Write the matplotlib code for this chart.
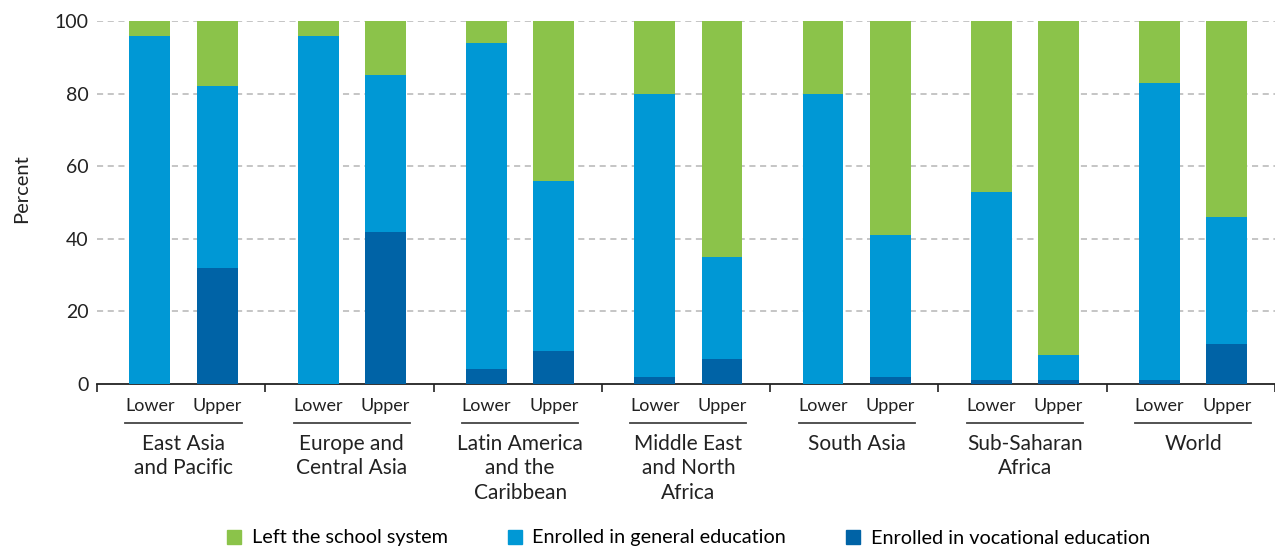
import matplotlib
matplotlib.use("Agg")
import matplotlib.pyplot as plt
import matplotlib.transforms as mtransforms
from matplotlib.patches import Patch
import numpy as np

regions = ["East Asia\nand Pacific", "Europe and\nCentral Asia", "Latin America\nand the\nCaribbean",
           "Middle East\nand North\nAfrica", "South Asia", "Sub-Saharan\nAfrica", "World"]
levels = ["Lower", "Upper"]
# values per region: [Lower, Upper]
vocational = [[0, 32], [0, 42], [4, 9], [2, 7], [0, 2], [1, 1], [1, 11]]
general = [[96, 50], [96, 43], [90, 47], [78, 28], [80, 39], [52, 7], [82, 35]]
left = [[4, 18], [4, 15], [6, 44], [20, 65], [20, 59], [47, 92], [17, 54]]
series_names = ["Left the school system", "Enrolled in general education", "Enrolled in vocational education"]
colors = {"left": "#8BC34A", "general": "#0098D5", "vocational": "#0063A6"}
yticks = [0, 20, 40, 60, 80, 100]

plt.rcParams['font.family'] = ['Lato', 'DejaVu Sans']

fig = plt.figure(figsize=(12.75, 5.46), dpi=100)
W, H = 1275, 546
ax = fig.add_axes([97 / W, 162 / H, (1275 - 97) / W, (384 - 21) / H])

n = len(regions)
off = 0.2
shift = 0.014
bw = 0.243
voc = np.array(vocational, dtype=float)
gen = np.array(general, dtype=float)
lft = np.array(left, dtype=float)
centers = np.arange(n)
for j, sign in enumerate([-1, 1]):
    xs = centers + sign * off + shift
    ax.bar(xs, voc[:, j], width=bw, color=colors["vocational"], zorder=3, linewidth=0)
    ax.bar(xs, gen[:, j], width=bw, bottom=voc[:, j], color=colors["general"], zorder=3, linewidth=0)
    ax.bar(xs, lft[:, j], width=bw, bottom=voc[:, j] + gen[:, j], color=colors["left"], zorder=3, linewidth=0)

ax.set_ylim(0, 100)
ax.set_xlim(-0.5, n - 0.5 - 5 / 169)
ax.set_yticks(yticks)
ax.set_yticklabels([str(v) for v in yticks], fontsize=14, color="#222222")
ax.tick_params(axis='y', length=0, pad=6)
for v in yticks[1:]:
    ax.axhline(v, color="#b5b5b5", linestyle=(0, (4, 3)), linewidth=1.1, zorder=1)

for s in ["top", "right", "left"]:
    ax.spines[s].set_visible(False)
ax.spines["bottom"].set_color("#222222")
ax.spines["bottom"].set_linewidth(1.3)
ax.set_xticks(np.arange(n + 1) - 0.5)
ax.set_xticklabels([])
ax.tick_params(axis='x', length=6, width=1.2, color="#222222", direction='out')

fig.text(22 / W, (546 - 189) / H, "Percent", rotation=90, ha='center', va='center',
         fontsize=14.5, color="#222222")

trans = mtransforms.blended_transform_factory(ax.transData, fig.transFigure)
for i, name in enumerate(regions):
    for j, sign in enumerate([-1, 1]):
        ax.text(i + sign * off + shift, (546 - 406) / H, levels[j], transform=trans, ha='center', va='center',
                fontsize=13, color="#222222", clip_on=False)
    ax.plot([i + shift - 0.345, i + shift + 0.345], [(546 - 423) / H] * 2, transform=trans, color="#444444",
            linewidth=1.3, clip_on=False)
    ax.text(i + shift, (546 - 434) / H, name, transform=trans, ha='center', va='top', fontsize=15,
            color="#222222", linespacing=1.28, clip_on=False)

handles = [Patch(color=colors["left"]), Patch(color=colors["general"]), Patch(color=colors["vocational"])]
fig.legend(handles, series_names, loc='center', bbox_to_anchor=(0.540, (546 - 538) / H),
           ncol=3, frameon=False, fontsize=14.3, handlelength=0.7, handleheight=0.7,
           columnspacing=3.0, handletextpad=0.55, borderpad=0)

fig.savefig("out.png", dpi=100)
